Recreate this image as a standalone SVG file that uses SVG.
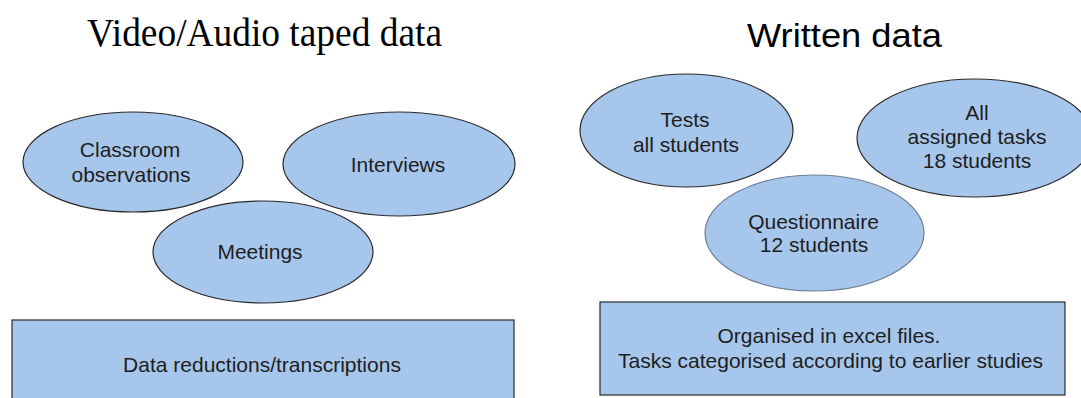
<svg xmlns="http://www.w3.org/2000/svg" width="1081" height="398" viewBox="0 0 1081 398">
<style>
.shape{fill:#a7c6ec;stroke:#2a2a2a;stroke-width:1.2}
.light{stroke:#6f7f95}
.t{font-family:"Liberation Sans",Arial,sans-serif;font-size:21px;fill:#1e1e1e;text-anchor:middle}
.h1{font-family:"Liberation Serif","Times New Roman",serif;font-size:40px;fill:#000;text-anchor:middle}
.h2{font-family:"Liberation Sans",Arial,sans-serif;font-size:34px;fill:#000;text-anchor:middle}
</style>
<rect width="1081" height="398" fill="#fff"/>
<text class="h1" x="264.5" y="46" textLength="355" lengthAdjust="spacingAndGlyphs">Video/Audio taped data</text>
<text class="h2" x="844.5" y="47" textLength="195" lengthAdjust="spacingAndGlyphs">Written data</text>
<g id="classroom"><ellipse class="shape" cx="133" cy="162" rx="110" ry="50"/><text class="t" x="130" y="157">Classroom</text><text class="t" x="131" y="182">observations</text></g>
<g id="interviews"><ellipse class="shape" cx="399" cy="164" rx="116" ry="52"/><text class="t" x="398" y="172">Interviews</text></g>
<g id="meetings"><ellipse class="shape" cx="263" cy="252" rx="110" ry="51"/><text class="t" x="260" y="259">Meetings</text></g>
<g id="reductions"><rect class="shape" x="12" y="320" width="502" height="90"/><text class="t" x="262" y="372">Data reductions/transcriptions</text></g>
<g id="tests"><ellipse class="shape" cx="686.5" cy="130.5" rx="106.5" ry="56.5"/><text class="t" x="685" y="127">Tests</text><text class="t" x="686" y="152">all students</text></g>
<g id="tasks"><ellipse class="shape" cx="975" cy="138" rx="118" ry="59"/><text class="t" x="977" y="120">All</text><text class="t" x="977" y="144">assigned tasks</text><text class="t" x="977" y="168">18 students</text></g>
<g id="questionnaire"><ellipse class="shape light" cx="814.5" cy="233" rx="109.5" ry="58"/><text class="t" x="813.5" y="229">Questionnaire</text><text class="t" x="814" y="252">12 students</text></g>
<g id="excel"><rect class="shape" x="600" y="302" width="465" height="93"/><text class="t" x="829" y="343">Organised in excel files.</text><text class="t" x="830.5" y="368">Tasks categorised according to earlier studies</text></g>
<g id="connectors"></g>
</svg>
